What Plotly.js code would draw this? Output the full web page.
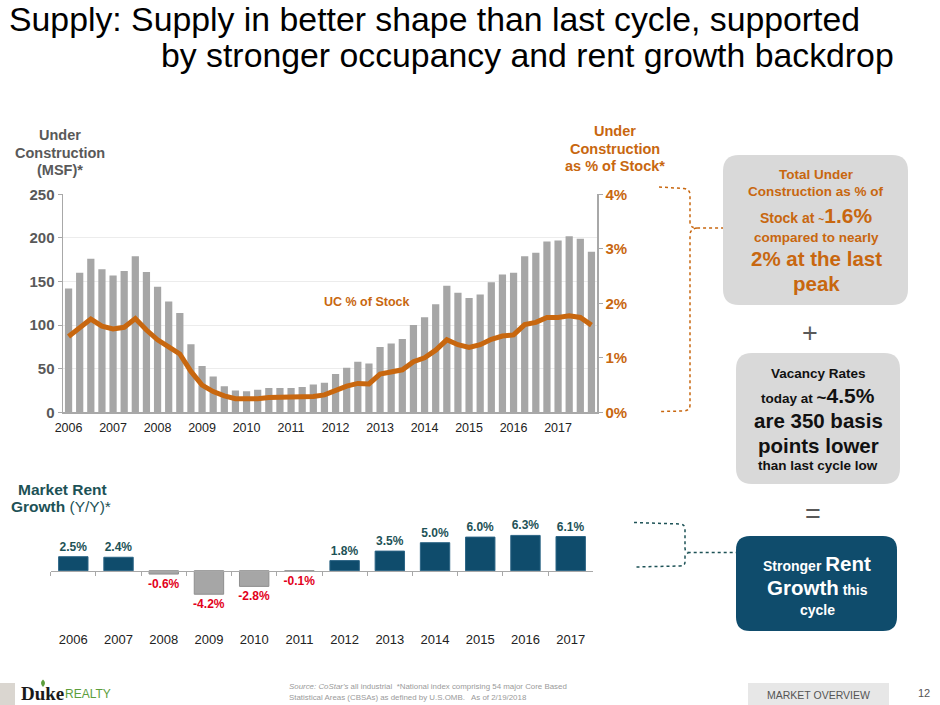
<!DOCTYPE html>
<html>
<head>
<meta charset="utf-8">
<script src="https://cdn.plot.ly/plotly-3.0.1.min.js"></script>
<style>
  html, body { margin: 0; padding: 0; background: #ffffff; }
  #chart { width: 940px; height: 705px; }
</style>
</head>
<body>
<div id="chart"></div>
<script>
// ---------------- DATA ----------------
const years = ['2006','2007','2008','2009','2010','2011','2012','2013','2014','2015','2016','2017'];
const quarterNames = ['Q1','Q2','Q3','Q4'];

// Under construction (MSF), quarterly 2006 Q1 .. 2017 Q4
const ucMsf = [142,160,176,164, 157,162,179,161, 144,127,114,78, 53,41,30,25,
               24,26,28,28, 28,29,32,34, 44,51,58,56, 75,79,84,100,
               109,124,145,137, 131,135,149,158, 160,179,183,196, 197,202,199,184];

// Under construction as % of stock, quarterly
const ucPct = [1.39,1.54,1.71,1.58, 1.53,1.56,1.72,1.51, 1.33,1.20,1.07,0.75, 0.50,0.38,0.30,0.25,
               0.24,0.25,0.27,0.27, 0.27,0.27,0.29,0.32, 0.41,0.48,0.53,0.52, 0.70,0.73,0.78,0.93,
               1.00,1.14,1.33,1.24, 1.19,1.24,1.34,1.40, 1.42,1.61,1.65,1.74, 1.74,1.77,1.74,1.60];

// Market rent growth (Y/Y, %)
const rentYears = years;
const rentGrowth = [2.5, 2.4, -0.6, -4.2, -2.8, -0.1, 1.8, 3.5, 5.0, 6.0, 6.3, 6.1];

// ---------------- STYLE ----------------
const W = 940, H = 705;
const ORANGE = '#c8670f';
const GRAYBAR = '#a6a6a6';
const BLUE = '#0f4c6c';
const TEAL = '#1d5256';
const RED = '#e2001a';
const AXIS = '#a8a8a8';
const FONT = 'Arial, "Liberation Sans", sans-serif';

const px = x => x / W;
const py = y => 1 - y / H;
const P = (x, y) => px(x).toFixed(5) + ',' + py(y).toFixed(5);

// quarter categories built from year labels
const quarters = [];
years.forEach(y => quarterNames.forEach(q => quarters.push(y + ' ' + q)));
const yearStarts = quarters.filter(q => q.endsWith('Q1'));
const boundaries = years.map((_, i) => i * 4 - 0.5).concat([years.length * 4 - 0.5]);

// rent chart vertical layout
const rentRange = [-9.5, 8];
const rentDomain = [py(623.9), py(525.9)];
const rentBaseline = rentDomain[0] + (0 - rentRange[0]) / (rentRange[1] - rentRange[0]) * (rentDomain[1] - rentDomain[0]);

// ---------------- TRACES ----------------
const traces = [
  {
    type: 'bar', x: quarters, y: ucMsf, xaxis: 'x', yaxis: 'y',
    marker: { color: GRAYBAR }, hoverinfo: 'skip', showlegend: false
  },
  {
    type: 'scatter', mode: 'lines', x: quarters, y: ucPct, xaxis: 'x', yaxis: 'y2',
    line: { color: ORANGE, width: 5 }, hoverinfo: 'skip', showlegend: false
  },
  {
    type: 'bar', x: rentYears, y: rentGrowth, xaxis: 'x3', yaxis: 'y3',
    marker: { color: rentGrowth.map(v => v >= 0 ? BLUE : GRAYBAR),
              line: { color: rentGrowth.map(v => v >= 0 ? '#2b6485' : '#8f8f8f'), width: 1 } },
    text: rentGrowth.map(v => v.toFixed(1) + '%'),
    textposition: 'outside', constraintext: 'none', cliponaxis: false,
    textfont: { family: FONT, size: 12, weight: 'bold', color: rentGrowth.map(v => v >= 0 ? TEAL : RED) },
    hoverinfo: 'skip', showlegend: false
  }
];

// ---------------- ANNOTATIONS ----------------
function ann(x, y, text, size, color, opts) {
  return Object.assign({
    xref: 'paper', yref: 'paper', x: px(x), y: py(y), text: text,
    showarrow: false, xanchor: 'center', yanchor: 'middle',
    font: { family: FONT, size: size, color: color }
  }, opts || {});
}
function bold(a) { a.font.weight = 'bold'; return a; }

const annotations = [
  ann(7, 19, 'Supply: Supply in better shape than last cycle, supported', 33.8, '#000', { xanchor: 'left' }),
  ann(159, 55, 'by stronger occupancy and rent growth backdrop', 33.8, '#000', { xanchor: 'left' }),

  bold(ann(60, 135, 'Under', 14.5, '#595959')),
  bold(ann(60, 152.5, 'Construction', 14.5, '#595959')),
  bold(ann(60, 170, '(MSF)*', 14.5, '#595959')),

  bold(ann(615, 131, 'Under', 14.5, ORANGE)),
  bold(ann(615, 148.5, 'Construction', 14.5, ORANGE)),
  bold(ann(615, 166, 'as % of Stock*', 14.5, ORANGE)),

  bold(ann(366, 301.5, 'UC % of Stock', 12.5, ORANGE)),

  bold(ann(62, 489, 'Market Rent', 15.5, TEAL)),
  ann(61, 506, '<b>Growth</b> (Y/Y)*', 15.5, TEAL),

  // box 1
  bold(ann(816, 174, 'Total Under', 13.5, ORANGE)),
  bold(ann(816, 191.5, 'Construction as % of', 13.5, ORANGE)),
  bold(ann(816, 215, 'Stock at <span style="font-size:10px">~</span><span style="font-size:21px">1.6%</span>', 14, ORANGE)),
  bold(ann(816, 237.5, 'compared to nearly', 13.5, ORANGE)),
  bold(ann(816, 258.5, '2% at the last', 20.5, ORANGE)),
  bold(ann(816, 283.5, 'peak', 20.5, ORANGE)),

  ann(810, 333, '+', 27, '#595959'),

  // box 2
  bold(ann(818, 373.5, 'Vacancy Rates', 13.5, '#111')),
  bold(ann(818, 395.5, 'today at <span style="font-size:17px">~</span><span style="font-size:21px">4.5%</span>', 13.5, '#111')),
  bold(ann(818, 420, 'are 350 basis', 20.5, '#111')),
  bold(ann(818, 445, 'points lower', 20.5, '#111')),
  bold(ann(818, 466, 'than last cycle low', 13.5, '#111')),

  ann(813, 514, '=', 27, '#595959'),

  // box 3
  bold(ann(817, 563.5, 'Stronger <span style="font-size:20.5px">Rent</span>', 14, '#ffffff')),
  bold(ann(817, 587.5, '<span style="font-size:20.5px">Growth</span> this', 14, '#ffffff')),
  bold(ann(817, 609.5, 'cycle', 14, '#ffffff')),

  // footer
  bold(ann(66, 693, 'Duke', 19, '#1a1a1a', { xanchor: 'right', font: { family: '"Liberation Serif", "Times New Roman", serif', size: 19, color: '#1a1a1a' } })),
  ann(63, 694, 'REALTY', 11, '#5c9e3c', { xanchor: 'left', font: { family: '"Liberation Sans Narrow", Arial, sans-serif', size: 12, color: '#5c9e3c' } }),
  ann(287, 686.5, '<i>Source: CoStar\'s</i> all industrial  *National index comprising 54 major Core Based', 7.9, '#9a9a9a', { xanchor: 'left' }),
  ann(287, 697.5, 'Statistical Areas (CBSAs) as defined by U.S.OMB.   As of 2/19/2018', 7.9, '#9a9a9a', { xanchor: 'left' }),
  ann(818, 694.5, 'MARKET OVERVIEW', 10.5, '#555555'),
  ann(924, 693, '12', 11, '#555555')
];

// ---------------- SHAPES ----------------
function rr(x0, y0, x1, y1, r) {
  return 'M' + P(x0 + r, y0) + ' L' + P(x1 - r, y0) + ' Q' + P(x1, y0) + ' ' + P(x1, y0 + r) +
         ' L' + P(x1, y1 - r) + ' Q' + P(x1, y1) + ' ' + P(x1 - r, y1) +
         ' L' + P(x0 + r, y1) + ' Q' + P(x0, y1) + ' ' + P(x0, y1 - r) +
         ' L' + P(x0, y0 + r) + ' Q' + P(x0, y0) + ' ' + P(x0 + r, y0) + ' Z';
}
const orangeBracket =
  'M' + P(659, 187) + ' L' + P(684, 188.5) + ' Q' + P(690, 189.5) + ' ' + P(690, 195) +
  ' L' + P(690, 222) + ' Q' + P(690, 228) + ' ' + P(697, 228) + ' L' + P(723, 228) +
  ' M' + P(697, 228) + ' Q' + P(690, 229) + ' ' + P(690, 235) +
  ' L' + P(690, 405) + ' Q' + P(690, 410.5) + ' ' + P(684, 411) + ' L' + P(659, 411.5);
const tealBracket =
  'M' + P(634, 522.5) + ' L' + P(680, 524) + ' Q' + P(685, 524.5) + ' ' + P(685, 529) +
  ' L' + P(685, 548) + ' Q' + P(685, 552.5) + ' ' + P(690, 552.5) + ' L' + P(736, 552.5) +
  ' M' + P(690, 552.5) + ' Q' + P(685, 553) + ' ' + P(685, 557) +
  ' L' + P(685, 562) + ' Q' + P(685, 566) + ' ' + P(680, 566) + ' L' + P(634, 567);
const leaf = 'M' + P(43, 679.5) + ' Q' + P(47, 683) + ' ' + P(43, 687) + ' Q' + P(39, 683) + ' ' + P(43, 679.5) + ' Z';

const shapes = [
  { type: 'path', xref: 'paper', yref: 'paper', path: rr(723, 155, 908, 305, 16), fillcolor: '#d9d9d9', line: { width: 0 }, layer: 'below' },
  { type: 'path', xref: 'paper', yref: 'paper', path: rr(736, 353, 900, 484, 16), fillcolor: '#d9d9d9', line: { width: 0 }, layer: 'below' },
  { type: 'path', xref: 'paper', yref: 'paper', path: rr(736, 536, 897, 631, 14), fillcolor: BLUE, line: { width: 0 }, layer: 'below' },
  { type: 'path', xref: 'paper', yref: 'paper', path: orangeBracket, line: { color: ORANGE, width: 1.5, dash: 'dot' } },
  { type: 'path', xref: 'paper', yref: 'paper', path: tealBracket, line: { color: TEAL, width: 1.5, dash: 'dot' } },
  { type: 'rect', xref: 'paper', yref: 'paper', x0: px(0), x1: px(15), y0: py(705), y1: py(683), fillcolor: '#dad6d0', line: { width: 0 }, layer: 'below' },
  { type: 'rect', xref: 'paper', yref: 'paper', x0: px(748), x1: px(889), y0: py(705), y1: py(683), fillcolor: '#e7e7e7', line: { width: 0 }, layer: 'below' },
  { type: 'path', xref: 'paper', yref: 'paper', path: leaf, fillcolor: '#5c9e3c', line: { width: 0 } }
];

// ---------------- LAYOUT ----------------
const layout = {
  width: W, height: H,
  margin: { l: 0, r: 0, t: 0, b: 0, pad: 0 },
  paper_bgcolor: '#ffffff', plot_bgcolor: 'rgba(0,0,0,0)',
  font: { family: FONT },
  bargap: 0.35,
  showlegend: false,
  xaxis: {
    domain: [px(63), px(597)], anchor: 'y', type: 'category',
    range: [-0.5, quarters.length - 0.5],
    tickvals: yearStarts, ticktext: years, ticks: '',
    tickfont: { family: FONT, size: 12.5, color: '#222' },
    ticklabelstandoff: 3,
    showline: true, linecolor: AXIS, linewidth: 1.5,
    showgrid: false, zeroline: false, fixedrange: true
  },
  xaxis2: {
    overlaying: 'x', anchor: 'y', type: 'linear',
    range: [-0.5, quarters.length - 0.5],
    tickvals: boundaries, ticks: 'outside', ticklen: 5, tickwidth: 1, tickcolor: AXIS,
    showticklabels: false, showline: false, showgrid: false, zeroline: false
  },
  yaxis: {
    domain: [py(412.3), py(194.3)], anchor: 'x',
    range: [0, 250], dtick: 50,
    ticks: 'outside', ticklen: 4, tickcolor: AXIS, tickwidth: 1,
    tickfont: { family: FONT, size: 15, color: '#595959', weight: 'bold' },
    showline: true, linecolor: AXIS, linewidth: 1.5,
    showgrid: true, gridcolor: '#ececec', gridwidth: 1, zeroline: false, fixedrange: true
  },
  yaxis2: {
    overlaying: 'y', side: 'right', anchor: 'x',
    range: [0, 4], dtick: 1, ticksuffix: '%',
    ticks: 'outside', ticklen: 4, tickcolor: AXIS, tickwidth: 1,
    tickfont: { family: FONT, size: 15, color: ORANGE, weight: 'bold' },
    showline: true, linecolor: AXIS, linewidth: 1.5,
    showgrid: false, zeroline: false, fixedrange: true
  },
  xaxis3: {
    domain: [px(50.7), px(593.3)], anchor: 'free', position: rentBaseline, type: 'category',
    range: [-0.5, rentYears.length - 0.5],
    tickson: 'boundaries', ticks: 'outside', ticklen: 4, tickcolor: AXIS, tickwidth: 1,
    tickfont: { family: FONT, size: 13, color: '#222' },
    ticklabelstandoff: 56,
    showline: true, linecolor: AXIS, linewidth: 1.5,
    showgrid: false, zeroline: false, fixedrange: true
  },
  yaxis3: {
    domain: rentDomain, anchor: 'x3', range: rentRange,
    visible: false, showgrid: false, zeroline: false, fixedrange: true
  },
  annotations: annotations,
  shapes: shapes
};

Plotly.newPlot('chart', traces, layout, { staticPlot: true, displayModeBar: false });
</script>
</body>
</html>
